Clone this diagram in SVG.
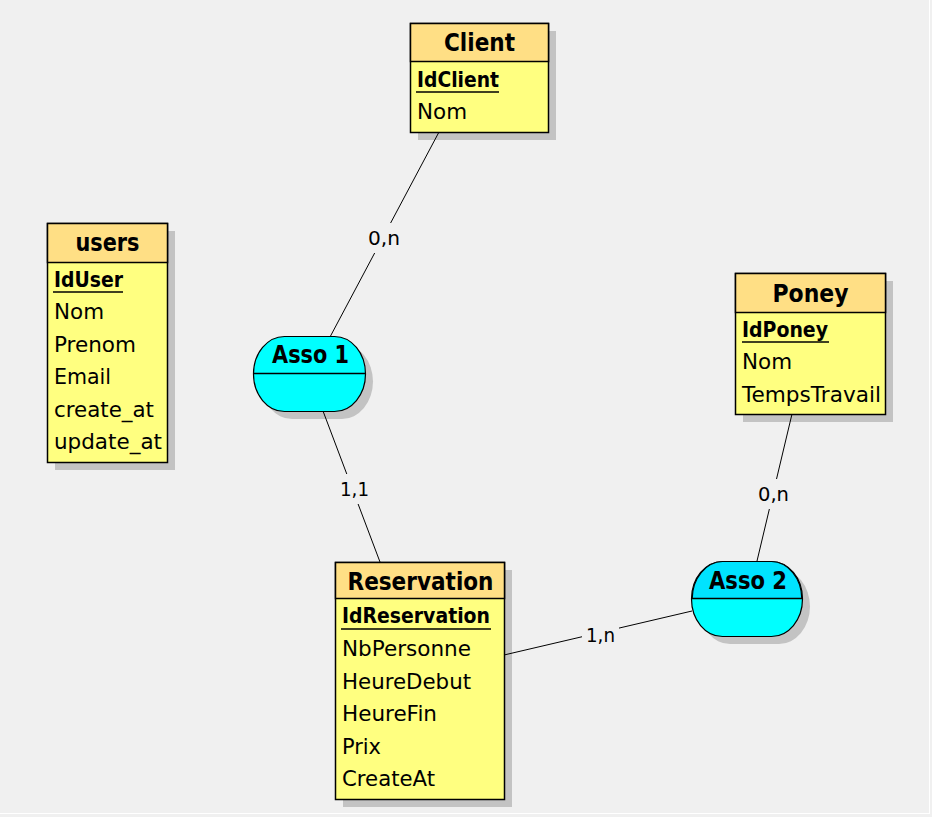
<svg xmlns="http://www.w3.org/2000/svg" width="932" height="817" viewBox="0 0 932 817">
  <style>
    text { font-family: "DejaVu Sans", "Liberation Sans", sans-serif; fill: #000; }
    .title { font-size: 24px; font-weight: bold; text-anchor: middle; }
    .key { font-size: 21px; font-weight: bold; }
    .attr { font-size: 21px; }
    .card { font-size: 20px; text-anchor: middle; }
    .shadow { fill: #c3c3c3; stroke: none; }
    .head { fill: #ffdf85; stroke: #000; stroke-width: 1.5; }
    .body { fill: #ffff80; stroke: #000; stroke-width: 1.5; }
    .sep { stroke: #000; stroke-width: 1.5; }
    .uline { stroke: #000; stroke-width: 1.5; }
    .asso { fill: #00ffff; stroke: #000; stroke-width: 1.2; }
    .link { stroke: #000; stroke-width: 1; fill: none; }
    .lblbg { fill: #f0f0f0; stroke: none; }
  </style>

  <!-- canvas -->
  <rect x="0" y="0" width="932" height="817" fill="#f0f0f0"/>
  <line x1="929.5" y1="0" x2="929.5" y2="813" stroke="#ffffff" stroke-width="1"/>
  <line x1="0" y1="813.5" x2="930" y2="813.5" stroke="#ffffff" stroke-width="1"/>

  <!-- drop shadows, painted under the links -->
  <g id="shadows">
    <rect class="shadow" x="418" y="31" width="138" height="109"/>
    <rect class="shadow" x="55" y="231" width="120" height="239"/>
    <rect class="shadow" x="743" y="281" width="150" height="141"/>
    <rect class="shadow" x="343" y="570" width="169" height="237"/>
    <rect class="shadow" x="261" y="344" width="112" height="75" rx="31" ry="37.5"/>
    <rect class="shadow" x="699" y="569" width="111" height="75" rx="31" ry="37.5"/>
  </g>

  <!-- connectors -->
  <g id="connectors">
    <line class="link" x1="439" y1="132" x2="330" y2="337"/>
    <line class="link" x1="323" y1="411" x2="380" y2="562"/>
    <line class="link" x1="792" y1="414" x2="757" y2="561"/>
    <line class="link" x1="504" y1="655" x2="692" y2="611"/>

    <rect class="lblbg" x="365" y="223" width="38" height="30"/>
    <text class="card" x="384" y="245" textLength="32" lengthAdjust="spacingAndGlyphs">0,n</text>

    <rect class="lblbg" x="337" y="474" width="35" height="30"/>
    <text class="card" x="354.5" y="496" textLength="29" lengthAdjust="spacingAndGlyphs">1,1</text>

    <rect class="lblbg" x="755" y="479" width="37" height="30"/>
    <text class="card" x="773.5" y="501" textLength="31" lengthAdjust="spacingAndGlyphs">0,n</text>

    <rect class="lblbg" x="582" y="620" width="37" height="30"/>
    <text class="card" x="600.5" y="642" textLength="29" lengthAdjust="spacingAndGlyphs">1,n</text>
  </g>

  <!-- entity: Client -->
  <g id="client">
    <rect class="body" x="410.5" y="23.5" width="138" height="109"/>
    <rect class="head" x="410.5" y="23.5" width="138" height="38"/>
    <text class="title" x="479.5" y="51" textLength="71" lengthAdjust="spacingAndGlyphs">Client</text>
    <text class="key" x="417" y="87" textLength="82" lengthAdjust="spacingAndGlyphs">IdClient</text>
    <line class="uline" x1="416" y1="92" x2="499" y2="92"/>
    <text class="attr" x="417" y="119" textLength="50" lengthAdjust="spacingAndGlyphs">Nom</text>
  </g>

  <!-- entity: users -->
  <g id="users">
    <rect class="body" x="47.5" y="223.5" width="120" height="239"/>
    <rect class="head" x="47.5" y="223.5" width="120" height="39"/>
    <text class="title" x="107.5" y="251" textLength="64" lengthAdjust="spacingAndGlyphs">users</text>
    <text class="key" x="54" y="287" textLength="69" lengthAdjust="spacingAndGlyphs">IdUser</text>
    <line class="uline" x1="53" y1="292" x2="123" y2="292"/>
    <text class="attr" x="54" y="319" textLength="50" lengthAdjust="spacingAndGlyphs">Nom</text>
    <text class="attr" x="54" y="352" textLength="82" lengthAdjust="spacingAndGlyphs">Prenom</text>
    <text class="attr" x="54" y="384" textLength="57" lengthAdjust="spacingAndGlyphs">Email</text>
    <text class="attr" x="54" y="417" textLength="100" lengthAdjust="spacingAndGlyphs">create_at</text>
    <text class="attr" x="54" y="449" textLength="108" lengthAdjust="spacingAndGlyphs">update_at</text>
  </g>

  <!-- entity: Poney -->
  <g id="poney">
    <rect class="body" x="735.5" y="273.5" width="150" height="141"/>
    <rect class="head" x="735.5" y="273.5" width="150" height="39"/>
    <text class="title" x="810.5" y="302" textLength="76" lengthAdjust="spacingAndGlyphs">Poney</text>
    <text class="key" x="742" y="337" textLength="86" lengthAdjust="spacingAndGlyphs">IdPoney</text>
    <line class="uline" x1="742" y1="342" x2="829" y2="342"/>
    <text class="attr" x="742" y="369" textLength="50" lengthAdjust="spacingAndGlyphs">Nom</text>
    <text class="attr" x="742" y="402" textLength="139" lengthAdjust="spacingAndGlyphs">TempsTravail</text>
  </g>

  <!-- entity: Reservation -->
  <g id="reservation">
    <rect class="body" x="335.5" y="562.5" width="169" height="237"/>
    <rect class="head" x="335.5" y="562.5" width="169" height="36"/>
    <text class="title" x="420.5" y="590" textLength="146" lengthAdjust="spacingAndGlyphs">Reservation</text>
    <text class="key" x="342" y="623" textLength="148" lengthAdjust="spacingAndGlyphs">IdReservation</text>
    <line class="uline" x1="341" y1="629" x2="491" y2="629"/>
    <text class="attr" x="342" y="656" textLength="129" lengthAdjust="spacingAndGlyphs">NbPersonne</text>
    <text class="attr" x="342" y="689" textLength="129" lengthAdjust="spacingAndGlyphs">HeureDebut</text>
    <text class="attr" x="342" y="721" textLength="95" lengthAdjust="spacingAndGlyphs">HeureFin</text>
    <text class="attr" x="342" y="754" textLength="39" lengthAdjust="spacingAndGlyphs">Prix</text>
    <text class="attr" x="342" y="786" textLength="93" lengthAdjust="spacingAndGlyphs">CreateAt</text>
  </g>

  <!-- association: Asso 1 -->
  <g id="asso1">
    <rect class="asso" x="253.5" y="336.5" width="112" height="75" rx="31" ry="37.5"/>
    <line class="sep" x1="254" y1="373.5" x2="365" y2="373.5"/>
    <text class="title" x="310.5" y="363" textLength="77" lengthAdjust="spacingAndGlyphs">Asso 1</text>
  </g>

  <!-- association: Asso 2 -->
  <g id="asso2">
    <rect class="asso" x="691.5" y="561.5" width="111" height="75" rx="31" ry="37.5"/>
    <path d="M692.2,598.5 A31,37.5 0 0 1 722.5,561.5 H771.5 A31,37.5 0 0 1 801.8,598.5 Z" fill="#00e3ff" stroke="#000" stroke-width="1.2"/>
    <line class="sep" x1="692" y1="598.5" x2="802" y2="598.5"/>
    <text class="title" x="748" y="589" textLength="78" lengthAdjust="spacingAndGlyphs">Asso 2</text>
  </g>
</svg>
